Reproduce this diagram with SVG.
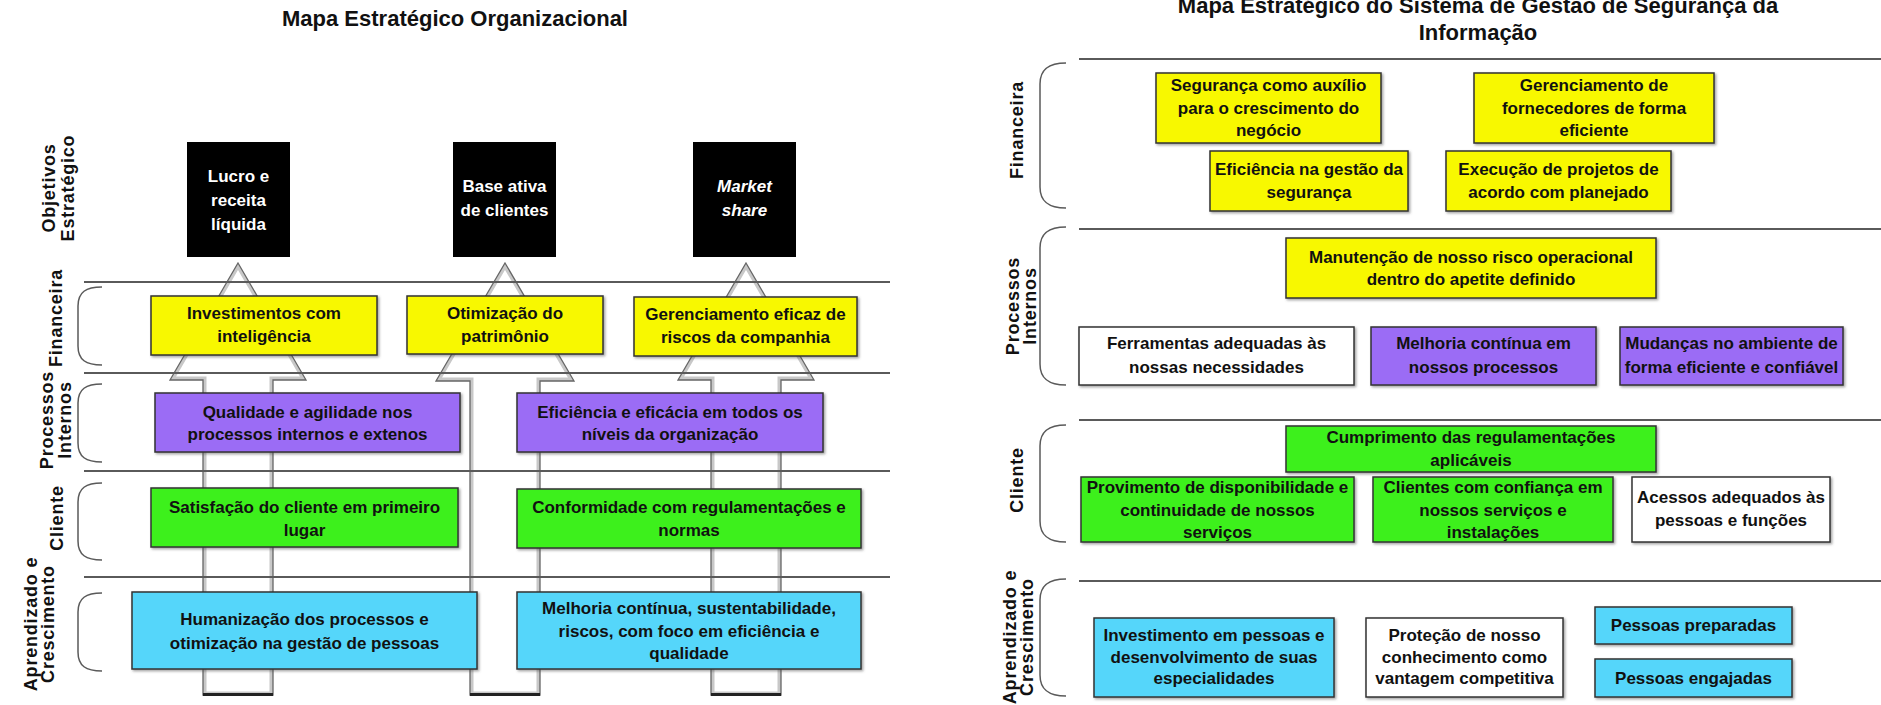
<svg xmlns="http://www.w3.org/2000/svg" width="1881" height="705" viewBox="0 0 1881 705">
<defs>
<style>
  text { font-family: "Liberation Sans", Arial, sans-serif; font-weight: bold; fill: #111; }
  .ttl { font-size: 22px; text-anchor: middle; }
  .t { font-size: 17px; text-anchor: middle; }
  .tw { fill: #fff; }
  .it { font-style: italic; }
  .lbl { font-size: 18px; text-anchor: middle; letter-spacing: 0.8px; }
  .sep { stroke: #5a5a5a; stroke-width: 2; }
  .br { fill: none; stroke: #5a5a5a; stroke-width: 1.5; }
  .box { stroke: #333; stroke-width: 1.5; filter: url(#sh); }
  .y { fill: #F8F800; } .p { fill: #9B6CF5; } .g { fill: #3EF01C; } .b { fill: #55D6FA; } .wh { fill: #fff; } .k { fill: #000; stroke: none; }
  .arr { fill: #fff; }
  .arr-edge { fill: none; stroke: #c8c8c8; stroke-width: 7; }
  .arr-line { fill: none; stroke: #666; stroke-width: 1.3; }
  .arr-foot { stroke: #222; stroke-width: 3; }
</style>
<filter id="sh" x="-5%" y="-10%" width="115%" height="130%">
  <feDropShadow dx="1.5" dy="1.5" stdDeviation="1" flood-color="#444" flood-opacity="0.5"/>
</filter>
<!-- block arrows: tip at y 263, head base at y 380, shaft down to y 695 -->
<path id="ar1" d="M238,263 L306,380 L273,380 L273,695 L203,695 L203,380 L170,380 Z"/>
<path id="ar2" d="M505,263 L574,381 L540,381 L540,695 L470,695 L470,381 L436,381 Z"/>
<path id="ar3" d="M746,263 L814,380 L781,380 L781,695 L711,695 L711,380 L678,380 Z"/>
<clipPath id="cl1"><use href="#ar1"/></clipPath>
<clipPath id="cl2"><use href="#ar2"/></clipPath>
<clipPath id="cl3"><use href="#ar3"/></clipPath>
</defs>

<rect width="1881" height="705" fill="#fff"/>

<!-- ===== Left map ===== -->
<text class="ttl" x="455" y="26">Mapa Estratégico Organizacional</text>

<g id="connectors">
  <g id="arrow-lucro">
    <use href="#ar1" class="arr"/>
    <use href="#ar1" class="arr-edge" clip-path="url(#cl1)"/>
    <use href="#ar1" class="arr-line"/>
    <line class="arr-foot" x1="203" y1="694.5" x2="273" y2="694.5"/>
  </g>
  <g id="arrow-base">
    <use href="#ar2" class="arr"/>
    <use href="#ar2" class="arr-edge" clip-path="url(#cl2)"/>
    <use href="#ar2" class="arr-line"/>
    <line class="arr-foot" x1="470" y1="694.5" x2="540" y2="694.5"/>
  </g>
  <g id="arrow-market">
    <use href="#ar3" class="arr"/>
    <use href="#ar3" class="arr-edge" clip-path="url(#cl3)"/>
    <use href="#ar3" class="arr-line"/>
    <line class="arr-foot" x1="711" y1="694.5" x2="781" y2="694.5"/>
  </g>
</g>

<g id="left-lanes">
  <line class="sep" x1="84" y1="282" x2="890" y2="282"/>
  <line class="sep" x1="84" y1="373" x2="890" y2="373"/>
  <line class="sep" x1="84" y1="471" x2="890" y2="471"/>
  <line class="sep" x1="84" y1="577" x2="890" y2="577"/>
  <path class="br" d="M102,287 C86,287 78,292 78,306 L78,346 C78,360 86,365 102,365"/>
  <path class="br" d="M102,384 C86,384 78,389 78,403 L78,443 C78,457 86,462 102,462"/>
  <path class="br" d="M102,483 C86,483 78,488 78,502 L78,541 C78,555 86,560 102,560"/>
  <path class="br" d="M102,593 C86,593 78,598 78,612 L78,652 C78,666 86,671 102,671"/>
  <text class="lbl" transform="translate(55,188) rotate(-90)">Objetivos</text>
  <text class="lbl" transform="translate(74,188) rotate(-90)">Estratégico</text>
  <text class="lbl" transform="translate(62,318) rotate(-90)">Financeira</text>
  <text class="lbl" transform="translate(53,420) rotate(-90)">Processos</text>
  <text class="lbl" transform="translate(71,420) rotate(-90)">Internos</text>
  <text class="lbl" transform="translate(63,518) rotate(-90)">Cliente</text>
  <text class="lbl" transform="translate(37,624) rotate(-90)">Aprendizado e</text>
  <text class="lbl" transform="translate(54,624) rotate(-90)">Crescimento</text>
</g>

<g id="n-lucro">
  <rect class="k" x="187" y="142" width="103" height="115"/>
  <text class="t tw" x="238.5" y="181.5">Lucro e</text>
  <text class="t tw" x="238.5" y="205.5">receita</text>
  <text class="t tw" x="238.5" y="229.5">líquida</text>
</g>
<g id="n-base">
  <rect class="k" x="453" y="142" width="103" height="115"/>
  <text class="t tw" x="504.5" y="192">Base ativa</text>
  <text class="t tw" x="504.5" y="216">de clientes</text>
</g>
<g id="n-market">
  <rect class="k" x="693" y="142" width="103" height="115"/>
  <text class="t tw it" x="744.5" y="192">Market</text>
  <text class="t tw it" x="744.5" y="216">share</text>
</g>

<g id="n-investimentos">
  <rect class="box y" x="151" y="296" width="226" height="59"/>
  <text class="t" x="264" y="319">Investimentos com</text>
  <text class="t" x="264" y="342">inteligência</text>
</g>
<g id="n-otimizacao">
  <rect class="box y" x="407" y="296" width="196" height="58"/>
  <text class="t" x="505" y="319">Otimização do</text>
  <text class="t" x="505" y="342">patrimônio</text>
</g>
<g id="n-gerenciamento-riscos">
  <rect class="box y" x="634" y="297" width="223" height="59"/>
  <text class="t" x="745.5" y="320">Gerenciamento eficaz de</text>
  <text class="t" x="745.5" y="343">riscos da companhia</text>
</g>

<g id="n-qualidade">
  <rect class="box p" x="155" y="393" width="305" height="59"/>
  <text class="t" x="307.5" y="417.5">Qualidade e agilidade nos</text>
  <text class="t" x="307.5" y="440">processos internos e extenos</text>
</g>
<g id="n-eficiencia">
  <rect class="box p" x="517" y="393" width="306" height="59"/>
  <text class="t" x="670" y="417.5">Eficiência e eficácia em todos os</text>
  <text class="t" x="670" y="440">níveis da organização</text>
</g>

<g id="n-satisfacao">
  <rect class="box g" x="151" y="488" width="307" height="59"/>
  <text class="t" x="304.5" y="512.5">Satisfação do cliente em primeiro</text>
  <text class="t" x="304.5" y="535.5">lugar</text>
</g>
<g id="n-conformidade">
  <rect class="box g" x="517" y="489" width="344" height="59"/>
  <text class="t" x="689" y="513">Conformidade com regulamentações e</text>
  <text class="t" x="689" y="536">normas</text>
</g>

<g id="n-humanizacao">
  <rect class="box b" x="132" y="592" width="345" height="77"/>
  <text class="t" x="304.5" y="625">Humanização dos processos e</text>
  <text class="t" x="304.5" y="649">otimização na gestão de pessoas</text>
</g>
<g id="n-melhoria-continua">
  <rect class="box b" x="517" y="592" width="344" height="77"/>
  <text class="t" x="689" y="614">Melhoria contínua, sustentabilidade,</text>
  <text class="t" x="689" y="636.5">riscos, com foco em eficiência e</text>
  <text class="t" x="689" y="659">qualidade</text>
</g>

<!-- ===== Right map ===== -->
<text class="ttl" x="1478" y="13">Mapa Estratégico do Sistema de Gestão de Segurança da</text>
<text class="ttl" x="1478" y="40">Informação</text>

<g id="right-lanes">
  <line class="sep" x1="1079" y1="59" x2="1881" y2="59"/>
  <line class="sep" x1="1079" y1="229" x2="1881" y2="229"/>
  <line class="sep" x1="1079" y1="420" x2="1881" y2="420"/>
  <line class="sep" x1="1079" y1="581" x2="1881" y2="581"/>
  <path class="br" d="M1066,63 C1049,63 1040,69 1040,84 L1040,187 C1040,202 1049,208 1066,208"/>
  <path class="br" d="M1066,227 C1049,227 1040,233 1040,248 L1040,364 C1040,379 1049,385 1066,385"/>
  <path class="br" d="M1066,425 C1049,425 1040,431 1040,446 L1040,521 C1040,536 1049,542 1066,542"/>
  <path class="br" d="M1066,579 C1049,579 1040,585 1040,600 L1040,675 C1040,690 1049,696 1066,696"/>
  <text class="lbl" transform="translate(1023,130) rotate(-90)">Financeira</text>
  <text class="lbl" transform="translate(1019,306) rotate(-90)">Processos</text>
  <text class="lbl" transform="translate(1036,306) rotate(-90)">Internos</text>
  <text class="lbl" transform="translate(1023,480) rotate(-90)">Cliente</text>
  <text class="lbl" transform="translate(1016,637) rotate(-90)">Aprendizado e</text>
  <text class="lbl" transform="translate(1033,637) rotate(-90)">Crescimento</text>
</g>

<g id="r-seguranca-crescimento">
  <rect class="box y" x="1156" y="73" width="225" height="70"/>
  <text class="t" x="1268.5" y="91">Segurança como auxílio</text>
  <text class="t" x="1268.5" y="113.5">para o crescimento do</text>
  <text class="t" x="1268.5" y="136">negócio</text>
</g>
<g id="r-gerenciamento-fornecedores">
  <rect class="box y" x="1474" y="73" width="240" height="70"/>
  <text class="t" x="1594" y="91">Gerenciamento de</text>
  <text class="t" x="1594" y="113.5">fornecedores de forma</text>
  <text class="t" x="1594" y="136">eficiente</text>
</g>
<g id="r-eficiencia-gestao">
  <rect class="box y" x="1210" y="151" width="198" height="60"/>
  <text class="t" x="1309" y="174.5">Eficiência na gestão da</text>
  <text class="t" x="1309" y="198">segurança</text>
</g>
<g id="r-execucao-projetos">
  <rect class="box y" x="1446" y="151" width="225" height="60"/>
  <text class="t" x="1558.5" y="174.5">Execução de projetos de</text>
  <text class="t" x="1558.5" y="198">acordo com planejado</text>
</g>

<g id="r-manutencao-risco">
  <rect class="box y" x="1286" y="238" width="370" height="60"/>
  <text class="t" x="1471" y="262.5">Manutenção de nosso risco operacional</text>
  <text class="t" x="1471" y="285">dentro do apetite definido</text>
</g>
<g id="r-ferramentas">
  <rect class="box wh" x="1079" y="327" width="275" height="58"/>
  <text class="t" x="1216.5" y="349">Ferramentas adequadas às</text>
  <text class="t" x="1216.5" y="372.5">nossas necessidades</text>
</g>
<g id="r-melhoria-processos">
  <rect class="box p" x="1371" y="327" width="225" height="58"/>
  <text class="t" x="1483.5" y="349">Melhoria contínua em</text>
  <text class="t" x="1483.5" y="372.5">nossos processos</text>
</g>
<g id="r-mudancas-ambiente">
  <rect class="box p" x="1620" y="327" width="223" height="58"/>
  <text class="t" x="1731.5" y="349">Mudanças no ambiente de</text>
  <text class="t" x="1731.5" y="372.5">forma eficiente e confiável</text>
</g>

<g id="r-cumprimento">
  <rect class="box g" x="1286" y="426" width="370" height="46"/>
  <text class="t" x="1471" y="442.5">Cumprimento das regulamentações</text>
  <text class="t" x="1471" y="466">aplicáveis</text>
</g>
<g id="r-provimento">
  <rect class="box g" x="1081" y="477" width="273" height="65"/>
  <text class="t" x="1217.5" y="493">Provimento de disponibilidade e</text>
  <text class="t" x="1217.5" y="515.5">continuidade de nossos</text>
  <text class="t" x="1217.5" y="538">serviços</text>
</g>
<g id="r-clientes-confianca">
  <rect class="box g" x="1373" y="477" width="240" height="65"/>
  <text class="t" x="1493" y="493">Clientes com confiança em</text>
  <text class="t" x="1493" y="515.5">nossos serviços e</text>
  <text class="t" x="1493" y="538">instalações</text>
</g>
<g id="r-acessos">
  <rect class="box wh" x="1632" y="477" width="198" height="65"/>
  <text class="t" x="1731" y="503">Acessos adequados às</text>
  <text class="t" x="1731" y="526">pessoas e funções</text>
</g>

<g id="r-investimento-pessoas">
  <rect class="box b" x="1094" y="618" width="240" height="79"/>
  <text class="t" x="1214" y="641">Investimento em pessoas e</text>
  <text class="t" x="1214" y="662.5">desenvolvimento de suas</text>
  <text class="t" x="1214" y="684">especialidades</text>
</g>
<g id="r-protecao-conhecimento">
  <rect class="box wh" x="1366" y="618" width="197" height="79"/>
  <text class="t" x="1464.5" y="641">Proteção de nosso</text>
  <text class="t" x="1464.5" y="662.5">conhecimento como</text>
  <text class="t" x="1464.5" y="684">vantagem competitiva</text>
</g>
<g id="r-pessoas-preparadas">
  <rect class="box b" x="1595" y="607" width="197" height="37"/>
  <text class="t" x="1693.5" y="631">Pessoas preparadas</text>
</g>
<g id="r-pessoas-engajadas">
  <rect class="box b" x="1595" y="659" width="197" height="38"/>
  <text class="t" x="1693.5" y="683.5">Pessoas engajadas</text>
</g>
</svg>
